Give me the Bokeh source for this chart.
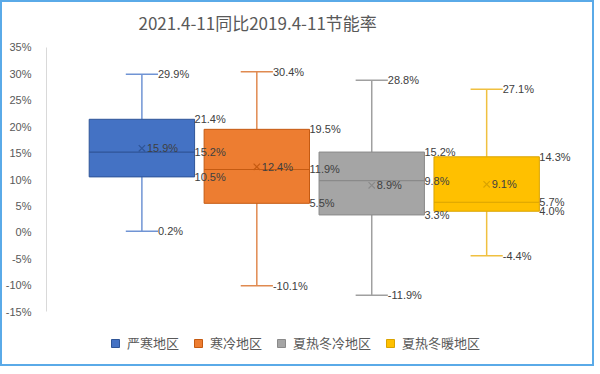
from bokeh.plotting import figure
from bokeh.models import Range1d, FixedTicker, PrintfTickFormatter, Legend, LegendItem, ColumnDataSource, Label
from bokeh.core.properties import value
from bokeh.embed import file_html
from bokeh.resources import INLINE

# ---- data ----
title_text = "2021.4-11同比2019.4-11节能率"
regions = ["严寒地区", "寒冷地区", "夏热冬冷地区", "夏热冬暖地区"]
maxs = [29.9, 30.4, 28.8, 27.1]
q3s = [21.4, 19.5, 15.2, 14.3]
medians = [15.2, 11.9, 9.8, 5.7]
q1s = [10.5, 5.5, 3.3, 4.0]
mins = [0.2, -10.1, -11.9, -4.4]
means = [15.9, 12.4, 8.9, 9.1]
y_ticks = [-15, -10, -5, 0, 5, 10, 15, 20, 25, 30, 35]

fills = ["#4472C4", "#ED7D31", "#A5A5A5", "#FFC000"]
borders = ["#2F5597", "#C55A11", "#8A8A8A", "#D9A300"]
whisk = ["#7094D4", "#E08A50", "#A0A0A0", "#F0C040"]

box_w = 0.917
cap_w = 0.28

xs = list(range(len(regions)))

# frame extends above/below the tick range so the title and legend sit inside it;
# the axis itself is bounded to the tick range
p = figure(width=594, height=366, output_backend="svg", toolbar_location=None,
           x_range=Range1d(-0.5 - 0.33, len(regions) - 0.5 + 0.36),
           y_range=Range1d(-25.0, 43.5),
           min_border_left=44, min_border_right=11, min_border_top=0, min_border_bottom=4)
p.styles = {"border": "2px solid #5AAAE8"}
p.background_fill_color = "white"
p.border_fill_color = "white"
p.outline_line_color = None
p.xgrid.visible = False
p.ygrid.visible = False
p.xaxis.visible = False

p.yaxis.bounds = (y_ticks[0], y_ticks[-1])
p.yaxis.ticker = FixedTicker(ticks=y_ticks)
p.yaxis.formatter = PrintfTickFormatter(format="%d%%")
p.yaxis.major_tick_line_color = None
p.yaxis.minor_tick_line_color = None
p.yaxis.axis_line_color = "#D9D9D9"
p.yaxis.major_label_text_font = "Liberation Sans"
p.yaxis.major_label_text_font_size = "11px"
p.yaxis.major_label_text_color = "#595959"
p.yaxis.major_label_standoff = 9

title = Label(x=92, y=342, x_units="screen", y_units="screen", text=title_text,
              text_font="Noto Sans CJK SC", text_font_size="17px",
              text_color="#595959", text_baseline="middle", text_align="left")
p.add_layout(title)

src = ColumnDataSource(dict(
    x=xs, mx=maxs, q3=q3s, med=medians, q1=q1s, mn=mins, mean=means,
    fill=fills, border=borders, wh=whisk,
    cap_l=[x - cap_w / 2 for x in xs], cap_r=[x + cap_w / 2 for x in xs],
    box_l=[x - box_w / 2 for x in xs], box_r=[x + box_w / 2 for x in xs],
))

# whiskers
p.segment(x0="x", y0="q3", x1="x", y1="mx", line_color="wh", line_width=1.5, source=src)
p.segment(x0="x", y0="q1", x1="x", y1="mn", line_color="wh", line_width=1.5, source=src)
p.segment(x0="cap_l", y0="mx", x1="cap_r", y1="mx", line_color="wh", line_width=1.5, source=src)
p.segment(x0="cap_l", y0="mn", x1="cap_r", y1="mn", line_color="wh", line_width=1.5, source=src)

# boxes
items = []
for i, r in enumerate(regions):
    b = p.vbar(x=xs[i], width=box_w, bottom=q1s[i], top=q3s[i],
               fill_color=fills[i], line_color=borders[i], line_width=1)
    items.append(LegendItem(label=r, renderers=[b]))

# median
p.segment(x0="box_l", y0="med", x1="box_r", y1="med", line_color="border", line_width=1.2, source=src)
# mean marker
p.scatter(x="x", y="mean", marker="x", size=9, line_color="border", line_width=1.2, source=src)

lab_font = value("Liberation Sans")
lab_kw = dict(text_font=lab_font, text_font_size="11px", text_color="#404040",
              text_baseline="middle", text_align="left")
src.data["t_mx"] = [f"{v:.1f}%" for v in maxs]
src.data["t_q3"] = [f"{v:.1f}%" for v in q3s]
src.data["t_med"] = [f"{v:.1f}%" for v in medians]
src.data["t_q1"] = [f"{v:.1f}%" for v in q1s]
src.data["t_mn"] = [f"{v:.1f}%" for v in mins]
src.data["t_mean"] = [f"{v:.1f}%" for v in means]

p.text(x="cap_r", y="mx", text="t_mx", source=src, **lab_kw)
p.text(x="cap_r", y="mn", text="t_mn", source=src, **lab_kw)
p.text(x="box_r", y="q3", text="t_q3", source=src, **lab_kw)
p.text(x="box_r", y="med", text="t_med", source=src, **lab_kw)
p.text(x="box_r", y="q1", text="t_q1", source=src, **lab_kw)
p.text(x="x", y="mean", text="t_mean", source=src, x_offset=5, **lab_kw)

legend = Legend(items=items, orientation="horizontal", location=(64, 12),
                glyph_width=10, glyph_height=10, label_standoff=7, spacing=14,
                padding=0, margin=0, border_line_color=None, background_fill_alpha=0,
                label_text_font="Noto Sans CJK SC", label_text_font_size="13px",
                label_text_color="#595959", label_height=14)
p.add_layout(legend, "center")

open("out.html", "w").write(file_html(p, INLINE))
